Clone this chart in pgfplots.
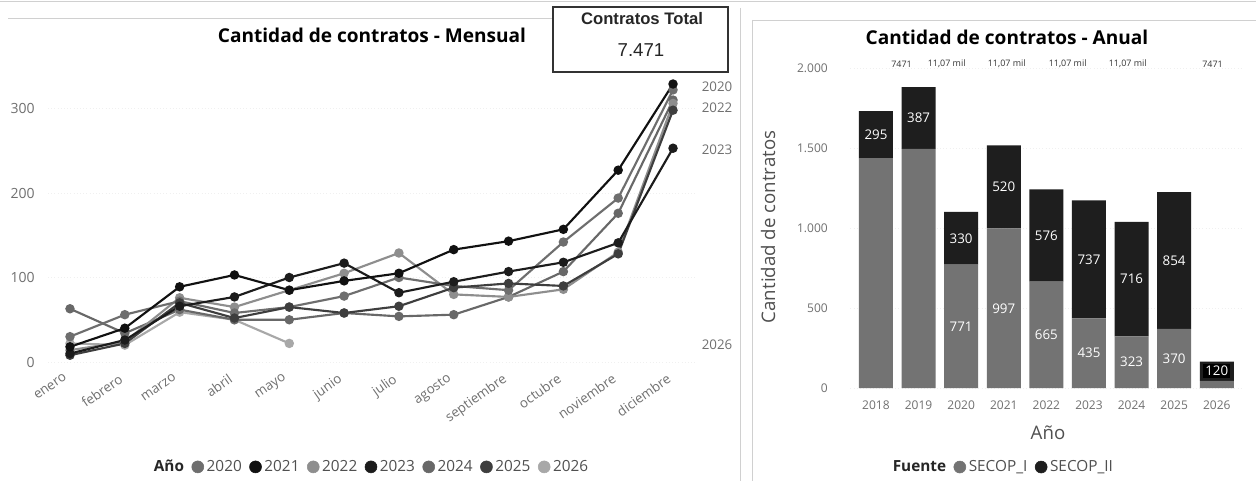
\documentclass[border=0pt]{standalone}
\usepackage{fontspec}
\setmainfont{Open Sans}
\newfontfamily\arialf{Liberation Sans}
\usepackage{pgfplots}
\pgfplotsset{compat=1.18}
\usepackage{pgfplotstable}

\definecolor{c2020}{HTML}{6E6E6E}
\definecolor{c2021}{HTML}{111111}
\definecolor{c2022}{HTML}{8E8E8E}
\definecolor{c2023}{HTML}{1C1C1C}
\definecolor{c2024}{HTML}{686868}
\definecolor{c2025}{HTML}{3E3E3E}
\definecolor{c2026}{HTML}{A8A8A8}
\definecolor{secopI}{HTML}{737373}
\definecolor{secopII}{HTML}{1E1E1E}
\definecolor{tickgray}{HTML}{707070}
\definecolor{txtgray}{HTML}{505050}
\definecolor{panel}{HTML}{D0D0D0}

% monthly counts, months 0 = enero ... 11 = diciembre
\pgfplotstableread{
mes a2020 a2021 a2022 a2023 a2024 a2025
0   30  18  14  10  63   8
1   56  40  24  26  34  22
2   72  89  76  66  62  70
3   58 103  65  77  50  52
4   65  85  85 100  50  65
5   78  96 105 117  58  58
6  100 105 129  82  54  66
7   90 133  80  95  56  88
8   85 143  77 107  77  93
9  142 157  86 118 107  90
10 194 227 130 141 176 128
11 322 329 306 253 310 298
}\mensual

\pgfplotstableread{
mes a2026
0 22
1 20
2 59
3 50
4 22
}\mensualb

% yearly counts by source
\pgfplotstableread{
x I II
0 1436 295
1 1494 387
2 771 330
3 997 520
4 665 576
5 435 737
6 323 716
7 370 854
8 45 120
}\anual

\pgfplotsset{
  dotlegend/.style={
    legend image code/.code={\fill[##1] (0.3em,0pt) circle (0.45em);},
    legend style={anchor=center, draw=none, fill=none,
      legend columns=-1, font=\fontsize{11.5}{13}\selectfont, text=txtgray, inner sep=0pt,
      /tikz/every even column/.append style={column sep=3.6pt}},
  },
}
\tikzset{
  barlbl/.style={text=white, font=\fontsize{10}{12}\selectfont, inner sep=0pt},
  toplbl/.style={text=black!80, font=\fontsize{6.7}{8}\selectfont, inner sep=0pt},
}

\begin{document}
\begin{tikzpicture}
\useasboundingbox (0,0) rectangle (942pt,-360.75pt);
\fill[white] (0,0) rectangle (942pt,-360.75pt);

\begin{scope}[x=0.75pt,y=-0.75pt]
  \draw[panel] (0,1) -- (1256,1);
  \draw[panel] (8,18) -- (553,18);
  \draw[panel] (740,8) -- (740,481);
  \draw[panel] (752,20) -- (1256,20);
  \draw[panel] (752,20) -- (752,481);
\end{scope}

% ---------- monthly lines ----------
\begin{axis}[
  at={(36.05pt,-276.57pt)}, anchor=south west,
  x=41.115pt, y=0.63375pt,
  xmin=-0.4, xmax=11.4, ymin=-8, ymax=345,
  clip=false,
  axis line style={draw=none},
  major tick length=0pt,
  xtick={0,...,11},
  xticklabels={enero,febrero,marzo,abril,mayo,junio,julio,agosto,septiembre,octubre,noviembre,diciembre},
  xticklabel style={rotate=35, anchor=north east, inner sep=0pt, xshift=-6pt, yshift=0.5pt,
    font=\fontsize{10}{12}\selectfont, text=tickgray},
  ytick={0,100,200,300},
  yticklabel style={anchor=east, inner sep=0pt, xshift=-9.8pt,
    font=\fontsize{10.5}{12}\selectfont, text=tickgray},
  /pgf/number format/assume math mode=true,
  ymajorgrids, grid style={gray!12, dotted},
  every axis plot/.append style={line width=1.6pt, mark=*, mark size=2.7pt, mark options={solid}},
]
\addplot[color=c2026] table[x=mes,y=a2026] \mensualb;
\addplot[color=c2024] table[x=mes,y=a2024] \mensual;
\addplot[color=c2022] table[x=mes,y=a2022] \mensual;
\addplot[color=c2020] table[x=mes,y=a2020] \mensual;
\addplot[color=c2025] table[x=mes,y=a2025] \mensual;
\addplot[color=c2023] table[x=mes,y=a2023] \mensual;
\addplot[color=c2021] table[x=mes,y=a2021] \mensual;
\end{axis}

% legend of the monthly chart (in year order)
\begin{axis}[
  at={(36.05pt,-276.57pt)}, anchor=south west,
  x=41.115pt, y=0.63375pt,
  xmin=-0.4, xmax=11.4, ymin=-8, ymax=345,
  hide axis, dotlegend,
  legend style={at={(axis description cs:0.4993,-0.329)}},
]
\addlegendimage{empty legend}
\addlegendentry{\textcolor{black!85}{\bfseries Año}}
\addlegendimage{color=c2020}\addlegendentry{2020}
\addlegendimage{color=c2021}\addlegendentry{2021}
\addlegendimage{color=c2022}\addlegendentry{2022}
\addlegendimage{color=c2023}\addlegendentry{2023}
\addlegendimage{color=c2024}\addlegendentry{2024}
\addlegendimage{color=c2025}\addlegendentry{2025}
\addlegendimage{color=c2026}\addlegendentry{2026}
\end{axis}

% ---------- yearly stacked bars ----------
\begin{axis}[
  at={(637.8pt,-291pt)}, anchor=south west,
  x=31.95pt, y=0.12pt,
  xmin=-0.6, xmax=8.6, ymin=0, ymax=2150,
  clip=false,
  ybar stacked, bar width=25.5pt,
  axis line style={draw=none},
  major tick length=0pt,
  xtick={0,...,8},
  xticklabels={2018,2019,2020,2021,2022,2023,2024,2025,2026},
  xticklabel style={anchor=center, inner sep=0pt, yshift=-12.75pt,
    font=\fontsize{9}{11}\selectfont, text=tickgray},
  ytick={0,500,1000,1500,2000},
  yticklabel style={anchor=east, inner sep=0pt, xshift=-16.8pt,
    font=\fontsize{9}{11}\selectfont, text=tickgray},
  /pgf/number format/assume math mode=true,
  /pgf/number format/1000 sep={.},
  ymajorgrids, grid style={gray!12, dotted},
]
\addplot[fill=secopI, draw=none] table[x=x,y=I] \anual;
\addplot[fill=secopII, draw=none] table[x=x,y=II] \anual;
\end{axis}

% labels and legend of the yearly chart (drawn over the bars)
\begin{axis}[
  at={(637.8pt,-291pt)}, anchor=south west,
  x=31.95pt, y=0.12pt,
  xmin=-0.6, xmax=8.6, ymin=0, ymax=2150,
  hide axis, clip=false, dotlegend,
  legend style={at={(axis description cs:0.389,-0.2297)}},
]
\addlegendimage{empty legend}
\addlegendentry{\textcolor{black!85}{\bfseries Fuente}}
\addlegendimage{color=secopI}\addlegendentry{SECOP\_I}
\addlegendimage{color=secopII}\addlegendentry{SECOP\_II}

\node[barlbl] at (axis cs:0,1583.5) {295};
\node[barlbl] at (axis cs:1,1687.5) {387};
\node[barlbl] at (axis cs:2,936) {330};
\node[barlbl] at (axis cs:3,1257) {520};
\node[barlbl] at (axis cs:4,953) {576};
\node[barlbl] at (axis cs:5,803.5) {737};
\node[barlbl] at (axis cs:6,681) {716};
\node[barlbl] at (axis cs:7,797) {854};
\node[barlbl, fill=black, inner sep=1.6pt] at (axis cs:8,105) {120};
\node[barlbl] at (axis cs:2,385.5) {771};
\node[barlbl] at (axis cs:3,498.5) {997};
\node[barlbl] at (axis cs:4,332.5) {665};
\node[barlbl] at (axis cs:5,217.5) {435};
\node[barlbl] at (axis cs:6,161.5) {323};
\node[barlbl] at (axis cs:7,185) {370};

\node[toplbl] at (axis cs:0.6,2025) {7471};
\node[toplbl] at (axis cs:1.66,2025) {11,07 mil};
\node[toplbl] at (axis cs:3.07,2025) {11,07 mil};
\node[toplbl] at (axis cs:4.5,2025) {11,07 mil};
\node[toplbl] at (axis cs:5.91,2025) {11,07 mil};
\node[toplbl] at (axis cs:7.9,2025) {7471};
\end{axis}

% ---------- titles, labels, card ----------
\begin{scope}[x=0.75pt,y=-0.75pt]
  \node[font=\bfseries\fontsize{14.3}{16}\selectfont] at (372,35) {Cantidad de contratos - Mensual};
  \node[font=\bfseries\fontsize{14.3}{16}\selectfont] at (1007,37) {Cantidad de contratos - Anual};
  \draw[line width=1pt, black!80] (553,7) rectangle (728,72);
  \node[font=\arialf\bfseries\fontsize{12.5}{14}\selectfont, text=black!85] at (642,19) {Contratos Total};
  \node[font=\arialf\fontsize{14}{16}\selectfont, text=black!85] at (641,50) {7.471};
  \node[text=tickgray, font=\fontsize{10}{12}\selectfont, inner sep=0pt] at (717,87) {2020};
  \node[text=tickgray, font=\fontsize{10}{12}\selectfont, inner sep=0pt] at (717,108) {2022};
  \node[text=tickgray, font=\fontsize{10}{12}\selectfont, inner sep=0pt] at (717,150) {2023};
  \node[text=tickgray, font=\fontsize{10}{12}\selectfont, inner sep=0pt] at (717,345) {2026};
  \node[rotate=90, font=\fontsize{14}{16}\selectfont, text=txtgray] at (768,227) {Cantidad de contratos};
  \node[font=\fontsize{14}{16}\selectfont, text=txtgray] at (1048,433) {Año};
\end{scope}
\end{tikzpicture}
\end{document}
